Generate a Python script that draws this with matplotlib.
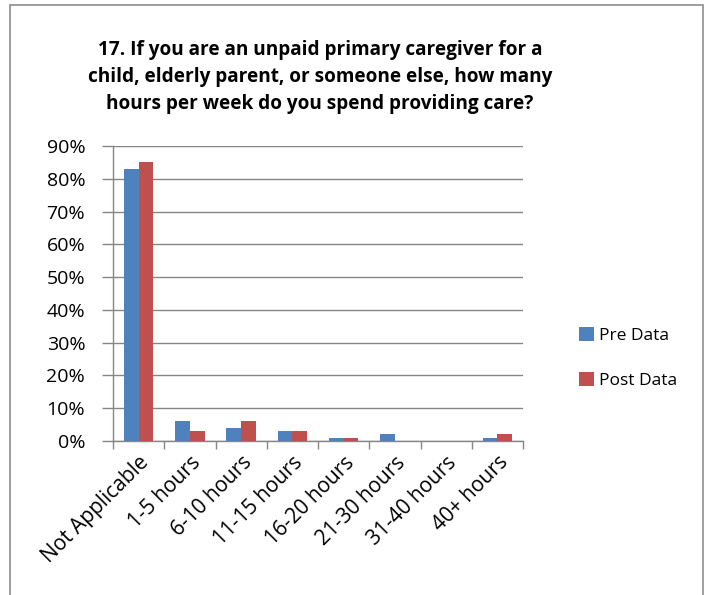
import matplotlib.pyplot as plt
import numpy as np
from matplotlib.patches import Rectangle
from matplotlib.ticker import FixedLocator, PercentFormatter

categories = ["Not Applicable", "1-5 hours", "6-10 hours", "11-15 hours",
              "16-20 hours", "21-30 hours", "31-40 hours", "40+ hours"]
pre_data = [0.83, 0.06, 0.04, 0.03, 0.01, 0.02, 0.00, 0.01]
post_data = [0.85, 0.03, 0.06, 0.03, 0.01, 0.00, 0.00, 0.02]
title = ("17. If you are an unpaid primary caregiver for a\n"
         "child, elderly parent, or someone else, how many\n"
         "hours per week do you spend providing care?")

plt.rcParams["font.family"] = ["Open Sans", "DejaVu Sans"]

fig = plt.figure(figsize=(7.11, 5.95), dpi=100)
# chart frame, bottom edge runs off the page
fig.patches.append(Rectangle((10 / 711, -0.1), 693 / 711, 1 - 5 / 595 + 0.1,
                             transform=fig.transFigure, fill=False,
                             edgecolor="#8c8c8c", linewidth=1.2))

ax = fig.add_axes([113 / 711, 1 - 441 / 595, 410 / 711, 295 / 595])

x = np.arange(len(categories))
w = 0.29
ax.bar(x - w / 2, pre_data, width=w, color="#4F81BD", label="Pre Data", zorder=3)
ax.bar(x + w / 2, post_data, width=w, color="#C0504D", label="Post Data", zorder=3)

ax.set_xlim(-0.5, len(categories) - 0.5)
ax.set_ylim(0, 0.9)
ax.set_yticks(np.arange(0, 0.91, 0.1))
ax.yaxis.set_major_formatter(PercentFormatter(1.0, decimals=0))
ax.grid(axis="y", color="#868686", linewidth=1, zorder=0)

ax.set_xticks(x)
ax.set_xticklabels(categories, rotation=45, ha="right", rotation_mode="anchor",
                   fontsize=15)
ax.tick_params(axis="x", which="major", length=0, pad=8)
ax.xaxis.set_minor_locator(FixedLocator(np.arange(-0.5, len(categories), 1)))
ax.tick_params(axis="x", which="minor", length=6, color="#868686", width=1)
ax.tick_params(axis="y", length=8, color="#868686", width=1, labelsize=14, pad=12)

for side in ["top", "right"]:
    ax.spines[side].set_visible(False)
for side in ["left", "bottom"]:
    ax.spines[side].set_color("#868686")
    ax.spines[side].set_linewidth(1)

fig.text(320 / 711, 1 - 77 / 595, title, ha="center", va="center",
         fontsize=13.7, fontweight="bold", linespacing=1.5)

fig.legend(loc="center left", bbox_to_anchor=(563 / 711, 1 - 358 / 595),
           frameon=False, fontsize=12.5, handlelength=0.9, handleheight=0.9,
           labelspacing=1.6, handletextpad=0.3)

fig.savefig("out.png", dpi=100)
